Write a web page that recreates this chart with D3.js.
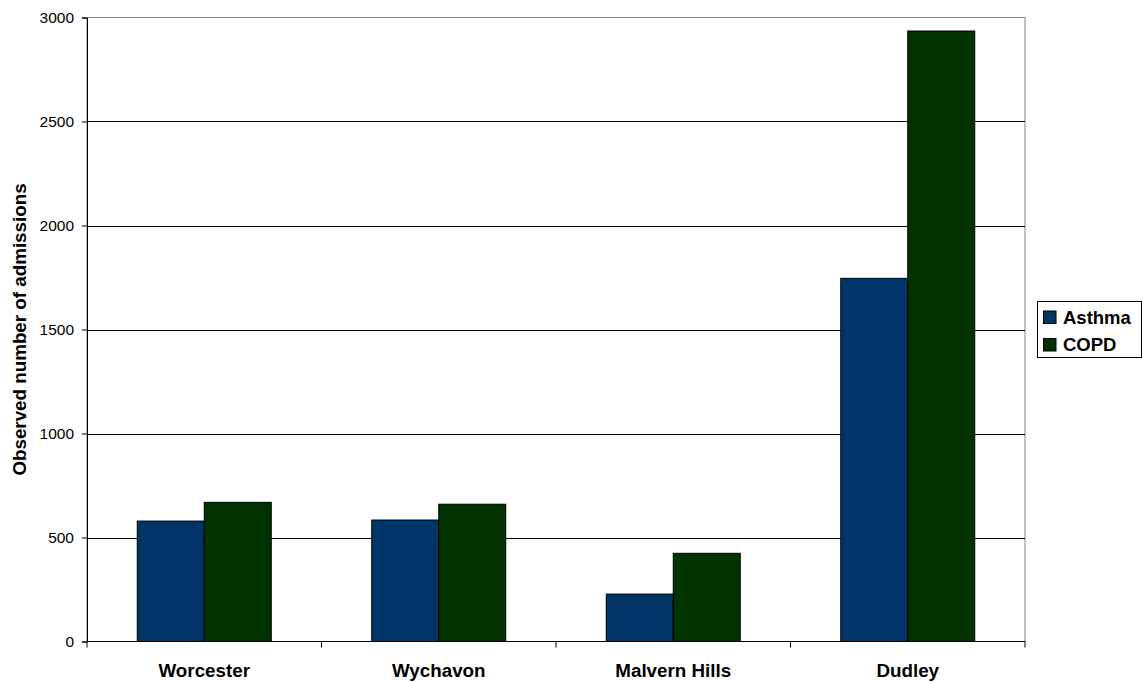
<!DOCTYPE html>
<html>
<head>
<meta charset="utf-8">
<script src="https://cdn.jsdelivr.net/npm/d3@7"></script>
<style>
  html, body { margin: 0; padding: 0; background: #fff; }
  svg { display: block; font-family: Arial, "Liberation Sans", sans-serif; }
</style>
</head>
<body>
<svg id="chart" width="1143" height="682"></svg>
<script>
// Hospital admissions by area
const areas = ["Worcester", "Wychavon", "Malvern Hills", "Dudley"];
const seriesNames = ["Asthma", "COPD"];
const asthma = [579, 584, 228, 1746];
const copd = [669, 660, 424, 2935];
const yTicks = [0, 500, 1000, 1500, 2000, 2500, 3000];
const colors = ["#003366", "#003300"];

const svg = d3.select("#chart");
const plot = { left: 87, right: 1025, top: 17.5, bottom: 641.5 };

const x = d3.scaleBand().domain(areas).range([plot.left, plot.right]).paddingInner(0).paddingOuter(0);
const xInner = d3.scaleBand().domain(seriesNames).range([0, x.bandwidth()]).paddingInner(0).paddingOuter(0.75);
const y = d3.scaleLinear().domain([0, 3000]).range([plot.bottom, plot.top]);

// plot frame
svg.append("rect")
  .attr("x", plot.left).attr("y", plot.top)
  .attr("width", plot.right - plot.left).attr("height", plot.bottom - plot.top)
  .attr("fill", "#fff").attr("stroke", "#808080").attr("stroke-width", 1);

// gridlines
svg.append("g").selectAll("line")
  .data(yTicks.filter(d => d > 0 && d < 3000))
  .join("line")
  .attr("x1", plot.left).attr("x2", plot.right)
  .attr("y1", d => Math.round(y(d)) + 0.5).attr("y2", d => Math.round(y(d)) + 0.5)
  .attr("stroke", "#000").attr("stroke-width", 1);

// bars
const data = areas.map((a, i) => ({ area: a, values: [asthma[i], copd[i]] }));
const groups = svg.append("g").selectAll("g")
  .data(data).join("g")
  .attr("transform", d => `translate(${x(d.area)},0)`);
groups.selectAll("rect")
  .data(d => d.values.map((v, j) => ({ name: seriesNames[j], value: v, j })))
  .join("rect")
  .attr("x", d => xInner(d.name))
  .attr("y", d => y(d.value))
  .attr("width", xInner.bandwidth())
  .attr("height", d => y(0) - y(d.value))
  .attr("fill", d => colors[d.j])
  .attr("stroke", "#000").attr("stroke-width", 1);

// y axis
const yAxis = d3.axisLeft(y).tickValues(yTicks).tickSize(5).tickPadding(8).tickFormat(d3.format("d"));
const gy = svg.append("g").attr("transform", `translate(${plot.left},0)`).call(yAxis);
gy.select(".domain").attr("stroke", "#000");
gy.selectAll(".tick line").attr("stroke", "#000");
gy.selectAll("text").attr("font-size", 15.5).attr("fill", "#000").attr("font-family", "Arial, 'Liberation Sans', sans-serif");

// x axis
const gx = svg.append("g").attr("transform", `translate(0,${plot.bottom})`);
gx.append("line").attr("x1", plot.left).attr("x2", plot.right).attr("stroke", "#000");
gx.selectAll("line.tk")
  .data(areas.map(a => x(a)).concat([plot.right]))
  .join("line").attr("class", "tk")
  .attr("x1", d => d).attr("x2", d => d).attr("y1", 0).attr("y2", 6)
  .attr("stroke", "#000");
gx.selectAll("text")
  .data(areas).join("text")
  .attr("x", d => x(d) + x.bandwidth() / 2)
  .attr("y", 35)
  .attr("text-anchor", "middle")
  .attr("font-size", 18.8).attr("font-weight", "bold")
  .text(d => d);

// y title
svg.append("text")
  .attr("transform", `translate(26,${(plot.top + plot.bottom) / 2}) rotate(-90)`)
  .attr("text-anchor", "middle")
  .attr("font-size", 18.8).attr("font-weight", "bold")
  .text("Observed number of admissions");

// legend
const lg = svg.append("g").attr("transform", "translate(1037,301)");
lg.append("rect").attr("x", 0.5).attr("y", 0.5).attr("width", 104).attr("height", 56)
  .attr("fill", "#fff").attr("stroke", "#000").attr("stroke-width", 1);
const items = lg.selectAll("g.it").data(seriesNames).join("g").attr("class", "it")
  .attr("transform", (d, i) => `translate(6.5,${10 + i * 27.5})`);
items.append("rect").attr("width", 12.5).attr("height", 12.5)
  .attr("fill", (d, i) => colors[i]).attr("stroke", "#000");
items.append("text").attr("x", 19.5).attr("y", 12.5)
  .attr("font-size", 18.5).attr("font-weight", "bold").text(d => d);
</script>
</body>
</html>
